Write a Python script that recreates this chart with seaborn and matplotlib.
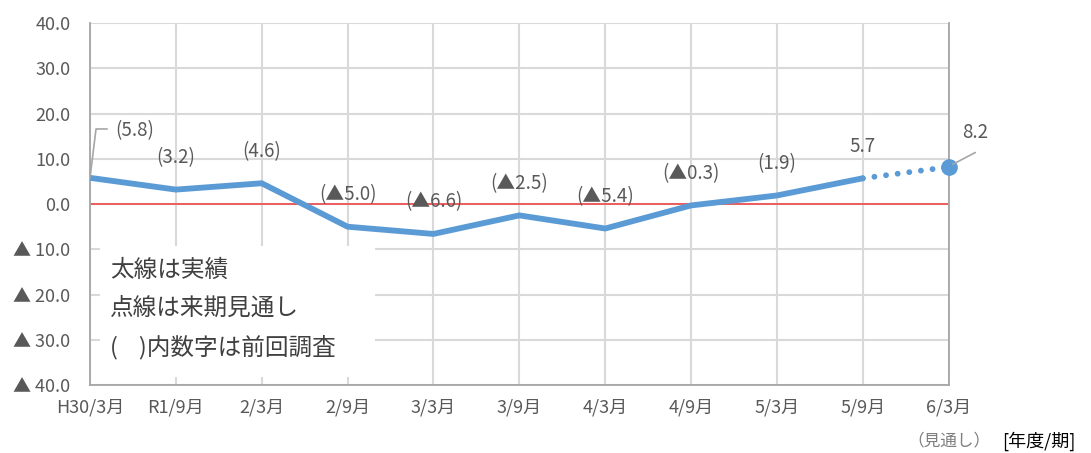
import matplotlib
matplotlib.use("Agg")
import matplotlib.pyplot as plt
import matplotlib.patches as mpatches
import seaborn as sns
import pandas as pd
import numpy as np

# Period labels (fiscal year / half) and DI values
periods = ["H30/3月", "R1/9月", "2/3月", "2/9月", "3/3月", "3/9月",
           "4/3月", "4/9月", "5/3月", "5/9月", "6/3月"]
actual = [5.8, 3.2, 4.6, -5.0, -6.6, -2.5, -5.4, -0.3, 1.9, 5.7]
outlook = [5.7, 8.2]
labels = ["(5.8)", "(3.2)", "(4.6)", "(▲5.0)", "(▲6.6)", "(▲2.5)",
          "(▲5.4)", "(▲0.3)", "(1.9)", "5.7"]
outlook_label = "8.2"
yticks = [40, 30, 20, 10, 0, -10, -20, -30, -40]
ytick_labels = ["40.0", "30.0", "20.0", "10.0", "0.0",
                "▲ 10.0", "▲ 20.0", "▲ 30.0", "▲ 40.0"]

sns.set_theme(style="white")
plt.rcParams["font.family"] = ["Noto Sans CJK JP", "DejaVu Sans"]

BLUE = "#5B9BD5"
GREY = "#595959"
GRID = "#D9D9D9"

fig = plt.figure(figsize=(10.91, 4.53), dpi=100)
ax = fig.add_axes([0.0825, 0.150, 0.787, 0.799])

df_act = pd.DataFrame({"x": np.arange(len(actual)), "v": actual})
df_out = pd.DataFrame({"x": [len(actual) - 1, len(actual)], "v": outlook})

ax.set_xlim(0, len(periods) - 1)
ax.set_ylim(-40, 40)

# grid
for xv in range(len(periods)):
    ax.axvline(xv, color=GRID, lw=1.5, zorder=0)
for yv in yticks:
    ax.axhline(yv, color=GRID, lw=1.5, zorder=0)

# zero line
ax.axhline(0, color="#F0474A", lw=1.2, zorder=1)

sns.lineplot(data=df_act, x="x", y="v", ax=ax, color=BLUE, lw=4.2,
             solid_capstyle="round", solid_joinstyle="miter", zorder=3)
sns.lineplot(data=df_out, x="x", y="v", ax=ax, color=BLUE, lw=4.2,
             linestyle=(0, (0.01, 2.0)), dash_capstyle="round", zorder=3)
ax.plot([len(actual)], [outlook[-1]], marker="o", ms=11, color=BLUE,
        zorder=4, clip_on=False)

# note box covering the grid in the lower-left area
box = mpatches.Rectangle((0.12, -38.2), 3.2, 29.0, facecolor="white",
                         edgecolor="none", zorder=2)
ax.add_patch(box)
notes = ["太線は実績", "点線は来期見通し", "(    )内数字は前回調査"]
for i, t in enumerate(notes):
    ax.text(0.23, -14.6 - 8.5 * i, t, fontsize=17, color="#404040",
            va="center", ha="left", zorder=5)

# data labels above each point
for i, (v, lab) in enumerate(zip(actual, labels)):
    if i == 0:
        continue
    ax.text(i, v + 7.1, lab, ha="center", va="center",
            fontsize=13.5, color=GREY, zorder=5)

# first label with leader line
ax.plot([0, 0.07, 0.2], [actual[0], 16.6, 16.6], color="#A6A6A6", lw=1.2,
        zorder=5, clip_on=False)
ax.text(0.29, 16.2, labels[0], ha="left", va="center", fontsize=13.5,
        color=GREY, zorder=5)

# outlook label with leader line
n = len(actual)
ax.plot([n + 0.05, n + 0.31], [outlook[-1] + 0.6, outlook[-1] + 3.2],
        color="#A6A6A6", lw=1.2, zorder=5, clip_on=False)
ax.text(n + 0.31, outlook[-1] + 7.6, outlook_label, ha="center",
        va="center", fontsize=13.5, color=GREY, clip_on=False)

# axes styling
ax.set_xticks(range(len(periods)))
ax.set_xticklabels(periods, fontsize=13, color=GREY)
ax.set_yticks(yticks)
ax.set_yticklabels(ytick_labels, fontsize=13, color=GREY)
ax.tick_params(axis="x", length=0, pad=10)
ax.tick_params(axis="y", length=0, pad=14)
ax.set_xlabel("")
ax.set_ylabel("")
ax.spines["top"].set_visible(False)
for side in ["left", "bottom", "right"]:
    ax.spines[side].set_color("#A6A6A6")
    ax.spines[side].set_linewidth(1.3)

fig.text(0.832, 0.027, "（見通し）", fontsize=12, color="#7F7F7F",
         ha="left", va="center")
fig.text(0.986, 0.027, "[年度/期]", fontsize=13, color="#000000",
         ha="right", va="center")

fig.savefig("out.png", dpi=100)
